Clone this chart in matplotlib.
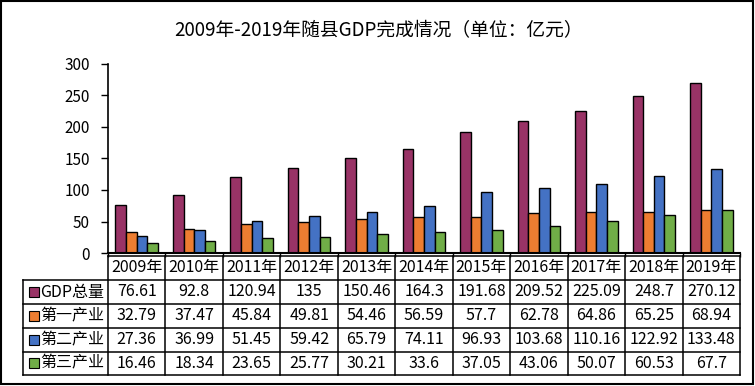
import matplotlib
matplotlib.use("Agg")
import matplotlib.pyplot as plt
from matplotlib.lines import Line2D
from matplotlib.patches import Rectangle
import matplotlib.transforms as mtrans
import numpy as np

plt.rcParams['font.family'] = ['Noto Sans CJK SC', 'DejaVu Sans']

years = ["2009年", "2010年", "2011年", "2012年", "2013年", "2014年", "2015年",
         "2016年", "2017年", "2018年", "2019年"]
series_names = ["GDP总量", "第一产业", "第二产业", "第三产业"]
gdp_total = [76.61, 92.8, 120.94, 135, 150.46, 164.3, 191.68, 209.52, 225.09, 248.7, 270.12]
primary = [32.79, 37.47, 45.84, 49.81, 54.46, 56.59, 57.7, 62.78, 64.86, 65.25, 68.94]
secondary = [27.36, 36.99, 51.45, 59.42, 65.79, 74.11, 96.93, 103.68, 110.16, 122.92, 133.48]
tertiary = [16.46, 18.34, 23.65, 25.77, 30.21, 33.6, 37.05, 43.06, 50.07, 60.53, 67.7]
series = [gdp_total, primary, secondary, tertiary]
colors = ["#993366", "#ED7D31", "#4472C4", "#70AD47"]

W, H = 755, 386
fig = plt.figure(figsize=(W / 100, H / 100), dpi=100)

def fx(px):
    return px / W

def fy(py):
    return 1 - py / H

ax_left, ax_right, ax_top, ax_bot = 108, 740, 64, 253
ax = fig.add_axes([fx(ax_left), fy(ax_bot), fx(ax_right - ax_left), (ax_bot - ax_top) / H])

n = len(years)
x = np.arange(n)
bw = 0.185
offsets = (np.arange(4) - 1.5) * bw
for s, vals, c, off in zip(series_names, series, colors, offsets):
    ax.bar(x + off, vals, width=bw, color=c, edgecolor="black", linewidth=1.0, label=s)

ax.set_xlim(-0.5, n - 0.5)
ax.set_ylim(0, 300)
ax.set_yticks(range(0, 301, 50))
ax.tick_params(axis='y', direction='out', length=5, width=1, labelsize=11, pad=8, color='black')
ax.set_xticks(np.arange(-0.5, n, 1))
ax.set_xticklabels([])
ax.tick_params(axis='x', direction='out', length=3, width=1)
for sp in ['top', 'right']:
    ax.spines[sp].set_visible(False)
ax.spines['left'].set_linewidth(1.2)
ax.spines['bottom'].set_linewidth(1.5)

# title
fig.text(fx(379), fy(31), "2009年-2019年随县GDP完成情况（单位：亿元）",
         ha='center', va='center', fontsize=13.5, color='black')

# table
row_edges = [255.5, 280, 304, 328, 351.5, 375]
tbl_left = 23
trans_x = mtrans.blended_transform_factory(ax.transData, fig.transFigure)
lw = 1.1
fs = 11.5
fig.add_artist(Line2D([fx(ax_left), fx(ax_right)], [fy(row_edges[0])] * 2, color='black', lw=lw))
for r in row_edges[1:]:
    fig.add_artist(Line2D([fx(tbl_left), fx(ax_right)], [fy(r)] * 2, color='black', lw=lw))
for b in np.arange(-0.5, n, 1):
    ax.add_artist(Line2D([b, b], [fy(row_edges[0]), fy(row_edges[-1])], transform=trans_x,
                         color='black', lw=lw, clip_on=False))
fig.add_artist(Line2D([fx(tbl_left)] * 2, [fy(row_edges[1]), fy(row_edges[-1])], color='black', lw=lw))

hc = (row_edges[0] + row_edges[1]) / 2
for i, yl in enumerate(years):
    ax.text(x[i], fy(hc), yl, transform=trans_x, ha='center', va='center', fontsize=fs,
            clip_on=False)

def fmt(v):
    return f"{v:g}"

for r, (name, vals, c) in enumerate(zip(series_names, series, colors)):
    yc = (row_edges[r + 1] + row_edges[r + 2]) / 2
    fig.add_artist(Rectangle((fx(29), fy(yc + 5)), fx(10), 10 / H, facecolor=c,
                             edgecolor='black', lw=0.8, transform=fig.transFigure))
    fig.text(fx(40), fy(yc), name, ha='left', va='center', fontsize=fs)
    for i, v in enumerate(vals):
        ax.text(x[i], fy(yc), fmt(v), transform=trans_x, ha='center', va='center',
                fontsize=fs, clip_on=False)

fig.add_artist(Rectangle((fx(1), fy(384)), fx(752), 383 / H, fill=False, edgecolor='black',
                         lw=1.5, transform=fig.transFigure))

fig.savefig("out.png", dpi=100)
